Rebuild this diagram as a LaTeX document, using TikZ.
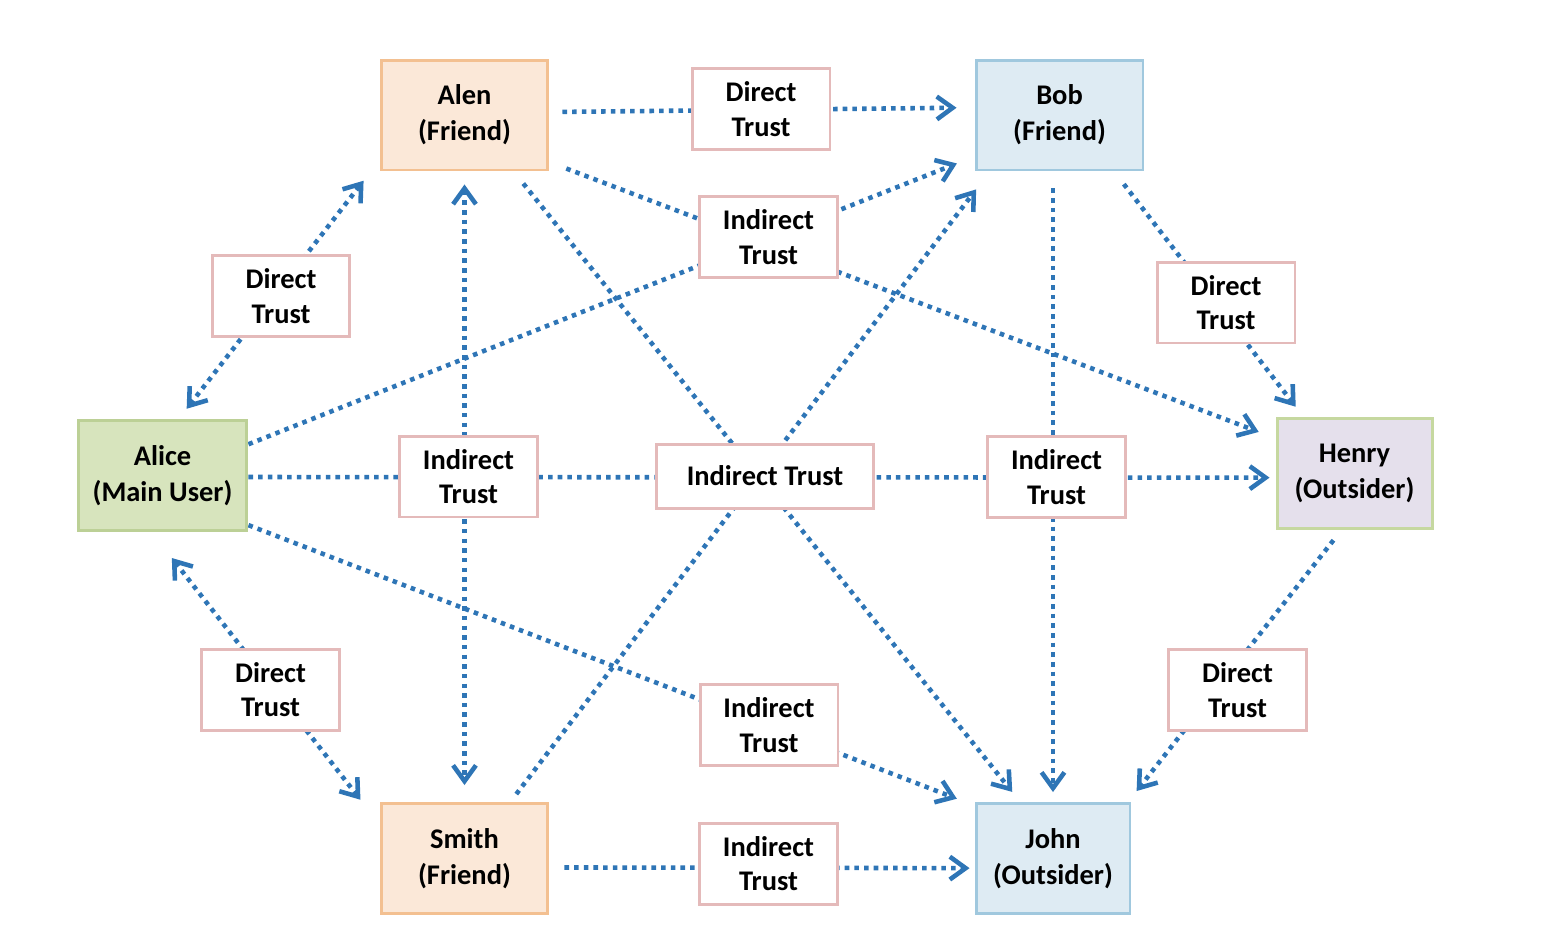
\documentclass[tikz,border=0pt]{standalone}
\usepackage{fontspec}
\setmainfont{Carlito}
\usetikzlibrary{arrows.meta,backgrounds}

\definecolor{linkblue}{RGB}{46,117,182}
\definecolor{friendfill}{RGB}{251,232,216}
\definecolor{frienddraw}{RGB}{243,192,145}
\definecolor{bobfill}{RGB}{222,235,243}
\definecolor{bobdraw}{RGB}{160,200,222}
\definecolor{mainfill}{RGB}{215,228,189}
\definecolor{maindraw}{RGB}{188,208,150}
\definecolor{outfill}{RGB}{229,224,236}
\definecolor{outdraw}{RGB}{198,216,160}
\definecolor{trustdraw}{RGB}{228,186,186}

\begin{document}
\begin{tikzpicture}[x=0.02cm,y=-0.02cm,>={Straight Barb[length=9pt,width=13pt]},
	box/.style={rectangle,line width=1.7pt,align=center,inner sep=0pt,font=\fontsize{16.2}{20.6}\selectfont\bfseries,minimum width=3.34cm,minimum height=2.2cm},
	friend/.style={box,fill=friendfill,draw=frienddraw},
	outsider/.style={box,fill=bobfill,draw=bobdraw,minimum width=3.08cm},
	trust/.style={box,fill=white,draw=trustdraw,minimum width=2.76cm,minimum height=1.62cm,font=\fontsize{16.2}{19.6}\selectfont\bfseries},
	link/.style={draw=linkblue,line width=2.6pt,dash pattern=on 2.6pt off 2.9pt,->}]
	\useasboundingbox (0,0) rectangle (1544,944);

	\node[friend] (alen) at (464.5,115) {Alen\\(Friend)};
	\node[box,fill=bobfill,draw=bobdraw] (bob) at (1059.5,115) {Bob\\(Friend)};
	\node[box,fill=mainfill,draw=maindraw,minimum width=3.38cm] (alice) at (162.5,475.5) {Alice\\(Main User)};
	\node[box,fill=outfill,draw=outdraw,minimum width=3.1cm] (henry) at (1354.5,473.5) {Henry\\(Outsider)};
	\node[friend] (smith) at (464.5,858.5) {Smith\\(Friend)};
	\node[outsider] (john) at (1053,858.5) {John\\(Outsider)};

	\node[trust] (dtab) at (761,109) {Direct\\Trust};
	\node[trust] (itab) at (768.5,237) {Indirect\\Trust};
	\node[trust] (dtaa) at (281,296) {Direct\\Trust};
	\node[trust] (dtbh) at (1226,302.5) {Direct\\Trust};
	\node[trust] (itas) at (468.5,476.5) {Indirect\\Trust};
	\node[trust,minimum width=4.36cm,minimum height=1.28cm] (itmid) at (765,476) {Indirect Trust};
	\node[trust] (itbj) at (1056.5,477) {Indirect\\Trust};
	\node[trust] (dtas) at (270.5,689.5) {Direct\\Trust};
	\node[trust] (itaj) at (769,725) {Indirect\\Trust};
	\node[trust] (dthj) at (1237.5,690) {Direct\\Trust};
	\node[trust] (itsj) at (768.5,863.5) {Indirect\\Trust};

	\begin{scope}[on background layer]
		\draw[link,shorten <=0.26cm,shorten >=0.36cm] (alen.2) -- (bob.175);
		\draw[link,shorten <=0.36cm,shorten >=0.36cm] (alen.-29) -- (henry.156);
		\draw[link,shorten >=0.38cm] (alice.20) -- (bob.206);
		\draw[link,<->,shorten <=0.26cm,shorten >=0.52cm] (alice.74) -- (alen.208);
		\draw[link,<->,shorten <=0.26cm,shorten >=0.34cm] (alen) -- (smith);
		\draw[link,shorten >=0.12cm] (alice.-1) -- (henry.183);
		\draw[link,shorten <=0.31cm,shorten >=0.26cm] (alen.-49.5) -- (john.120.7);
		\draw[link,shorten <=0.2cm,shorten >=0.45cm] (smith.51) -- (bob.219);
		\draw[link,shorten <=0.34cm,shorten >=0.2cm] (john |- bob.south) -- (john.north);
		\draw[link,shorten <=0.32cm,shorten >=0.26cm] (bob.-46) -- (henry.132);
		\draw[link,shorten <=0.26cm,shorten >=0.28cm] (henry.257) -- (john.37);
		\draw[link,<->,shorten <=0.66cm,shorten >=0.62cm] (alice.259) -- (smith.158.6);
		\draw[link,shorten >=0.38cm] (alice.-30) -- (john.146);
		\draw[link,shorten <=0.3cm,shorten >=0.1cm] (smith.-6.5) -- (john.187);
	\end{scope}
\end{tikzpicture}
\end{document}
